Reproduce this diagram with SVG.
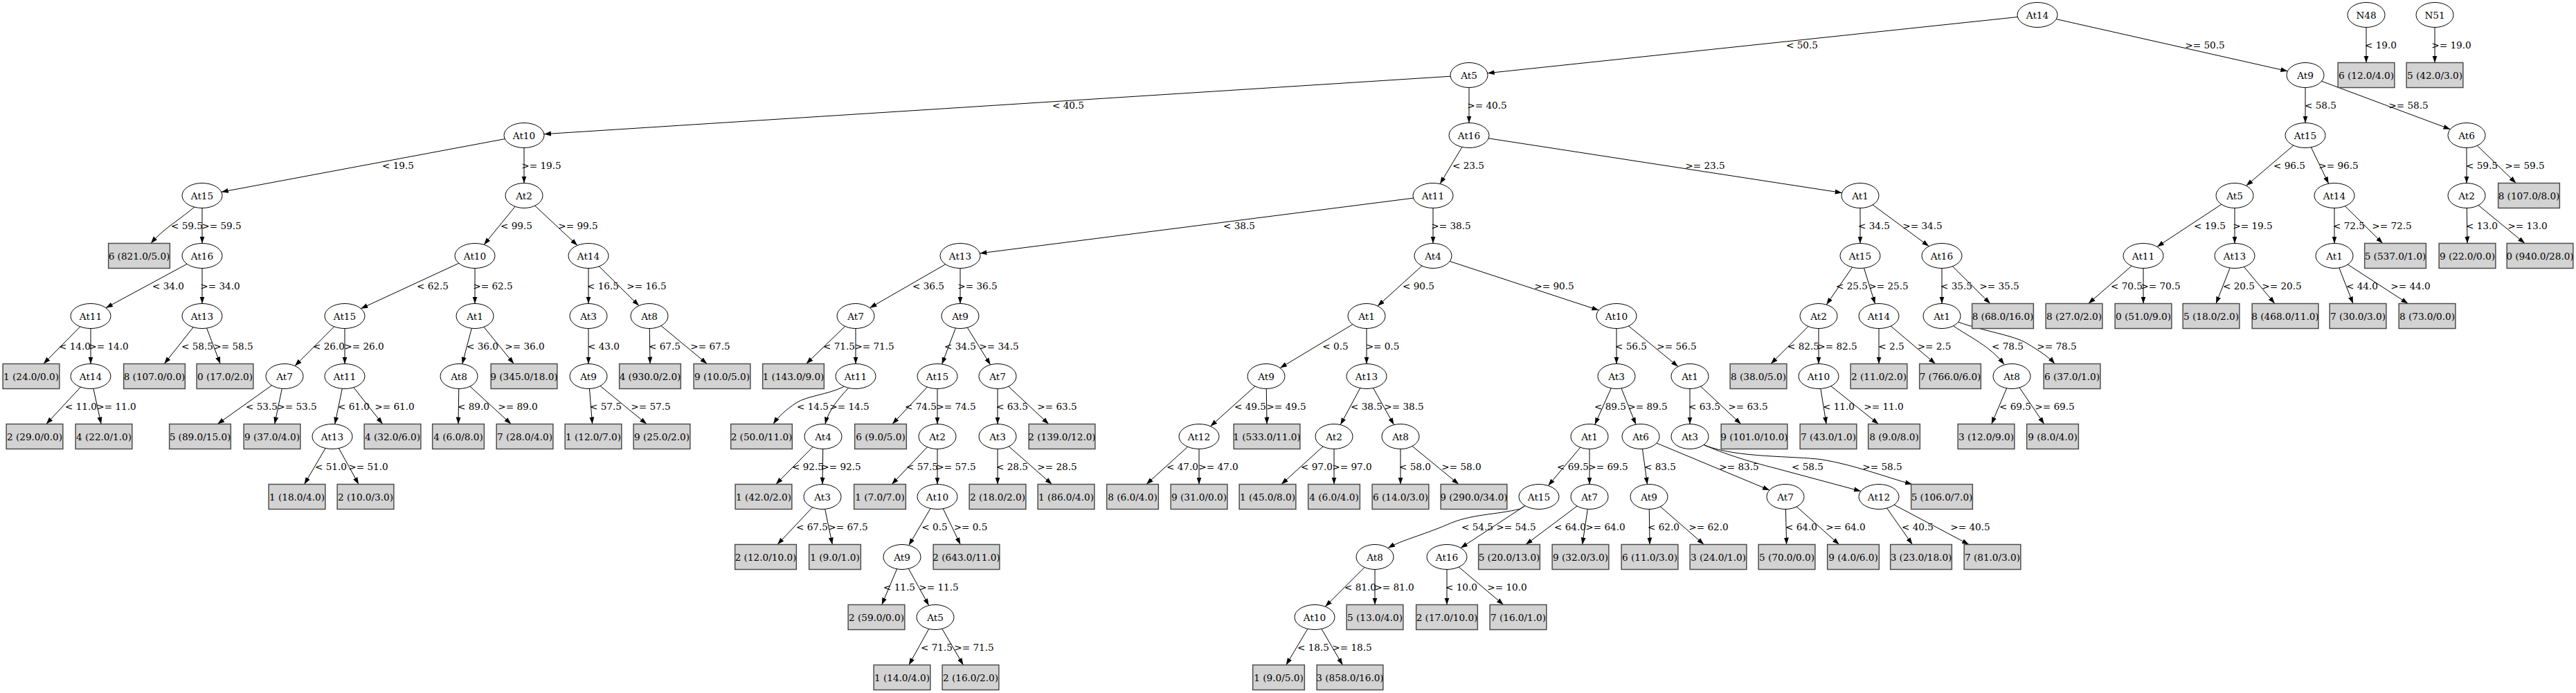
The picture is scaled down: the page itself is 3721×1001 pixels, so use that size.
<svg xmlns="http://www.w3.org/2000/svg" width="3721" height="1001" viewBox="0 0 3721 1001">
<style>
text{font-family:"DejaVu Serif","Liberation Serif",serif;font-size:13.6px;text-anchor:middle;fill:#000}
.node ellipse{fill:#fff;stroke:#000;stroke-width:1}
.leaf rect{fill:#d3d3d3;stroke:#4d4d4d;stroke-width:1.5}
#edges path{fill:none;stroke:#000;stroke-width:1;marker-end:url(#arr)}
</style>
<defs>
<marker id="arr" markerUnits="userSpaceOnUse" markerWidth="10" markerHeight="8" refX="10" refY="3.5" orient="auto" viewBox="0 0 10 7">
<path d="M0,0 L10,3.5 L0,7 z" fill="#000"/>
</marker>
</defs>
<rect width="3721" height="1001" fill="#fff"/>
<g id="edges">
<path d="M2943,21.5 L2148.7,105.7"/>
<path d="M2943,21.5 L3304.4,102.8"/>
<path d="M3418,21.5 L3418,90.5"/>
<path d="M3517,21.5 L3517,90.5"/>
<path d="M2122,108.5 L785.9,193.7"/>
<path d="M2122,108.5 L2122,177.5"/>
<path d="M3330,108.5 L3330,177.5"/>
<path d="M3330,108.5 L3539.4,186.7"/>
<path d="M757,195.5 L319.8,277.3"/>
<path d="M757,195.5 L757,264.5"/>
<path d="M2122,195.5 L2080.1,265.6"/>
<path d="M2122,195.5 L2660.7,278.5"/>
<path d="M3330,195.5 L3244.6,268.3"/>
<path d="M3330,195.5 L3363.7,265.3"/>
<path d="M3563,195.5 L3563,264.5"/>
<path d="M3563,195.5 L3634.4,264.5"/>
<path d="M292,282.5 L283,297 C262,316 236,330 218,351.5"/>
<path d="M292,282.5 L292,351.5"/>
<path d="M757,282.5 L699.1,353.4"/>
<path d="M757,282.5 L834,354.5"/>
<path d="M2070,282.5 L1415.4,365.9"/>
<path d="M2070,282.5 L2070,351.5"/>
<path d="M2687,282.5 L2687,351.5"/>
<path d="M2687,282.5 L2786.3,355.7"/>
<path d="M3228,282.5 L3115.9,356.4"/>
<path d="M3228,282.5 L3228,351.5"/>
<path d="M3372,282.5 L3372,351.5"/>
<path d="M3372,282.5 L3441.8,351.5"/>
<path d="M3563,282.5 L3564,351.5"/>
<path d="M3563,282.5 L3647.1,351.5"/>
<path d="M292,369.5 L152.9,444.7"/>
<path d="M292,369.5 L292,438.5"/>
<path d="M686,369.5 L521.3,445.7"/>
<path d="M686,369.5 L686,438.5"/>
<path d="M850,369.5 L850,438.5"/>
<path d="M850,369.5 L922.9,441.6"/>
<path d="M1387,369.5 L1256.4,444.7"/>
<path d="M1387,369.5 L1387,438.5"/>
<path d="M2070,369.5 L1990,442"/>
<path d="M2070,369.5 L2309.4,448.1"/>
<path d="M2687,369.5 L2638.3,440.1"/>
<path d="M2687,369.5 L2708.5,438.8"/>
<path d="M2805,369.5 L2805,438.5"/>
<path d="M2805,369.5 L2874.8,438.5"/>
<path d="M3096,369.5 L3016.7,438.5"/>
<path d="M3096,369.5 L3096,438.5"/>
<path d="M3228,369.5 L3201,438.5"/>
<path d="M3228,369.5 L3285.9,438.5"/>
<path d="M3372,369.5 L3399,438.5"/>
<path d="M3372,369.5 L3478.3,438.5"/>
<path d="M131,456.5 L62.8,525.5"/>
<path d="M131,456.5 L131,525.5"/>
<path d="M292,456.5 L237.3,525.5"/>
<path d="M292,456.5 L318.2,525.5"/>
<path d="M498,456.5 L426,528.5"/>
<path d="M498,456.5 L498,525.5"/>
<path d="M686,456.5 L667.7,525.8"/>
<path d="M686,456.5 L742.3,525.5"/>
<path d="M850,456.5 L850,525.5"/>
<path d="M938,456.5 L939,525.5"/>
<path d="M938,456.5 L1021.3,525.5"/>
<path d="M1236,456.5 L1164.6,525.5"/>
<path d="M1236,456.5 L1236,525.5"/>
<path d="M1387,456.5 L1360.6,526"/>
<path d="M1387,456.5 L1430.7,526.9"/>
<path d="M1974,456.5 L1849.1,531.5"/>
<path d="M1974,456.5 L1974,525.5"/>
<path d="M2335,456.5 L2335,525.5"/>
<path d="M2335,456.5 L2424,529.5"/>
<path d="M2627,456.5 L2558,525.5"/>
<path d="M2627,456.5 L2627,525.5"/>
<path d="M2714,456.5 L2714,525.5"/>
<path d="M2714,456.5 L2795.7,525.5"/>
<path d="M2805,456.5 L2822,471 C2845,487 2875,500 2895,526.5"/>
<path d="M2805,456.5 L2828,465 C2868,479 2908,484 2928,496 C2946,507 2960,516 2968,525.5"/>
<path d="M131,543.5 L66.8,612.5"/>
<path d="M131,543.5 L146.1,612.5"/>
<path d="M411,543.5 L314.2,612.5"/>
<path d="M411,543.5 L396.7,612.5"/>
<path d="M498,543.5 L483.7,612.6"/>
<path d="M498,543.5 L552.7,612.5"/>
<path d="M663,543.5 L662,612.5"/>
<path d="M663,543.5 L738.3,612.5"/>
<path d="M850,543.5 L855.6,612.5"/>
<path d="M850,543.5 L934.1,612.5"/>
<path d="M1236,543.5 L1218,559 C1195,570 1165,572 1150,582 C1135,592 1124,602 1117,612.5"/>
<path d="M1236,543.5 L1226,560 C1212,575 1197,592 1192,612.5"/>
<path d="M1354,543.5 L1289,612.5"/>
<path d="M1354,543.5 L1354,612.5"/>
<path d="M1441,543.5 L1441,612.5"/>
<path d="M1441,543.5 L1514.8,612.5"/>
<path d="M1829,543.5 L1748.5,615.7"/>
<path d="M1829,543.5 L1830,612.5"/>
<path d="M1974,543.5 L1936.2,613.6"/>
<path d="M1974,543.5 L2013.5,613.6"/>
<path d="M2335,543.5 L2303.7,613.3"/>
<path d="M2335,543.5 L2363,613.1"/>
<path d="M2441,543.5 L2441,612.5"/>
<path d="M2441,543.5 L2514.8,612.5"/>
<path d="M2627,543.5 L2638.1,612.5"/>
<path d="M2627,543.5 L2713.4,612.5"/>
<path d="M2906,543.5 L2876.7,612.5"/>
<path d="M2906,543.5 L2952.8,612.5"/>
<path d="M480,630.5 L439.6,699.5"/>
<path d="M480,630.5 L518.1,699.5"/>
<path d="M1189,630.5 L1120.8,699.5"/>
<path d="M1189,630.5 L1188,699.5"/>
<path d="M1354,630.5 L1288.2,699.5"/>
<path d="M1354,630.5 L1354,699.5"/>
<path d="M1441,630.5 L1441,699.5"/>
<path d="M1441,630.5 L1519.5,699.5"/>
<path d="M1732,630.5 L1655.9,699.5"/>
<path d="M1732,630.5 L1732,699.5"/>
<path d="M1927,630.5 L1850.9,699.5"/>
<path d="M1927,630.5 L1927,699.5"/>
<path d="M2023,630.5 L2023,699.5"/>
<path d="M2023,630.5 L2107.1,699.5"/>
<path d="M2296,630.5 L2236.4,701.5"/>
<path d="M2296,630.5 L2296,699.5"/>
<path d="M2370,630.5 L2379.5,699.6"/>
<path d="M2370,630.5 L2556.1,708"/>
<path d="M2441,630.5 L2462,643 C2490,655 2520,665 2567,677 L2688,709.5"/>
<path d="M2441,630.5 L2462,643 C2510,662 2590,658 2633,664 C2680,672 2720,688 2762,699.5"/>
<path d="M1188,717.5 L1123,786.5"/>
<path d="M1188,717.5 L1202.3,786.5"/>
<path d="M1354,717.5 L1312.8,787.7"/>
<path d="M1354,717.5 L1387.3,786.5"/>
<path d="M2223,717.5 L2196,735 C2160,744 2125,742 2090,758 C2055,773 2025,780 2005,791.5"/>
<path d="M2223,717.5 L2110,791.4"/>
<path d="M2296,717.5 L2204,786.5"/>
<path d="M2296,717.5 L2285.7,786.5"/>
<path d="M2382,717.5 L2383,786.5"/>
<path d="M2382,717.5 L2461.3,786.5"/>
<path d="M2579,717.5 L2580.6,786.5"/>
<path d="M2579,717.5 L2656.7,786.5"/>
<path d="M2714,717.5 L2762.4,786.5"/>
<path d="M2714,717.5 L2844.1,786.5"/>
<path d="M1303,804.5 L1273.7,873.5"/>
<path d="M1303,804.5 L1341.7,874.6"/>
<path d="M1986,804.5 L1914.3,876.2"/>
<path d="M1986,804.5 L1986,873.5"/>
<path d="M2090,804.5 L2090,873.5"/>
<path d="M2090,804.5 L2171.7,873.5"/>
<path d="M1351,891.5 L1312.9,960.5"/>
<path d="M1351,891.5 L1391.4,960.5"/>
<path d="M1899,891.5 L1857.8,960.5"/>
<path d="M1899,891.5 L1939.4,960.5"/>
<g id="edge-labels">
<text x="2603" y="70">&lt; 50.5</text><text x="3185" y="70">&gt;= 50.5</text><text x="3439" y="70">&lt; 19.0</text><text x="3541" y="70">&gt;= 19.0</text>
<text x="1543" y="157">&lt; 40.5</text><text x="2148" y="157">&gt;= 40.5</text><text x="3352" y="157">&lt; 58.5</text><text x="3479" y="157">&gt;= 58.5</text>
<text x="575" y="244">&lt; 19.5</text><text x="782" y="244">&gt;= 19.5</text><text x="2121" y="244">&lt; 23.5</text><text x="2463" y="244">&gt;= 23.5</text><text x="3307" y="244">&lt; 96.5</text><text x="3378" y="244">&gt;= 96.5</text><text x="3585" y="244">&lt; 59.5</text><text x="3647" y="244">&gt;= 59.5</text>
<text x="270" y="331">&lt; 59.5</text><text x="320" y="331">&gt;= 59.5</text><text x="746" y="331">&lt; 99.5</text><text x="835" y="331">&gt;= 99.5</text><text x="1790" y="331">&lt; 38.5</text><text x="2096" y="331">&gt;= 38.5</text><text x="2707" y="331">&lt; 34.5</text><text x="2777" y="331">&gt;= 34.5</text><text x="3192" y="331">&lt; 19.5</text><text x="3254" y="331">&gt;= 19.5</text><text x="3393" y="331">&lt; 72.5</text><text x="3455" y="331">&gt;= 72.5</text><text x="3585" y="331">&lt; 13.0</text><text x="3651" y="331">&gt;= 13.0</text>
<text x="243" y="418">&lt; 34.0</text><text x="318" y="418">&gt;= 34.0</text><text x="625" y="418">&lt; 62.5</text><text x="712" y="418">&gt;= 62.5</text><text x="871" y="418">&lt; 16.5</text><text x="934" y="418">&gt;= 16.5</text><text x="1341" y="418">&lt; 36.5</text><text x="1412" y="418">&gt;= 36.5</text><text x="2049" y="418">&lt; 90.5</text><text x="2245" y="418">&gt;= 90.5</text><text x="2675" y="418">&lt; 25.5</text><text x="2728" y="418">&gt;= 25.5</text><text x="2826" y="418">&lt; 35.5</text><text x="2888" y="418">&gt;= 35.5</text><text x="3072" y="418">&lt; 70.5</text><text x="3121" y="418">&gt;= 70.5</text><text x="3234" y="418">&lt; 20.5</text><text x="3296" y="418">&gt;= 20.5</text><text x="3412" y="418">&lt; 44.0</text><text x="3482" y="418">&gt;= 44.0</text>
<text x="108" y="505">&lt; 14.0</text><text x="157" y="505">&gt;= 14.0</text><text x="285" y="505">&lt; 58.5</text><text x="337" y="505">&gt;= 58.5</text><text x="475" y="505">&lt; 26.0</text><text x="526" y="505">&gt;= 26.0</text><text x="697" y="505">&lt; 36.0</text><text x="758" y="505">&gt;= 36.0</text><text x="872" y="505">&lt; 43.0</text><text x="960" y="505">&lt; 67.5</text><text x="1026" y="505">&gt;= 67.5</text><text x="1212" y="505">&lt; 71.5</text><text x="1263" y="505">&gt;= 71.5</text><text x="1387" y="505">&lt; 34.5</text><text x="1443" y="505">&gt;= 34.5</text><text x="1929" y="505">&lt; 0.5</text><text x="1997" y="505">&gt;= 0.5</text><text x="2356" y="505">&lt; 56.5</text><text x="2422" y="505">&gt;= 56.5</text><text x="2605" y="505">&lt; 82.5</text><text x="2654" y="505">&gt;= 82.5</text><text x="2732" y="505">&lt; 2.5</text><text x="2794" y="505">&gt;= 2.5</text><text x="2900" y="505">&lt; 78.5</text><text x="2971" y="505">&gt;= 78.5</text>
<text x="117" y="592">&lt; 11.0</text><text x="168" y="592">&gt;= 11.0</text><text x="378" y="592">&lt; 53.5</text><text x="429" y="592">&gt;= 53.5</text><text x="511" y="592">&lt; 61.0</text><text x="570" y="592">&gt;= 61.0</text><text x="684" y="592">&lt; 89.0</text><text x="748" y="592">&gt;= 89.0</text><text x="875" y="592">&lt; 57.5</text><text x="940" y="592">&gt;= 57.5</text><text x="1174" y="592">&lt; 14.5</text><text x="1227" y="592">&gt;= 14.5</text><text x="1330" y="592">&lt; 74.5</text><text x="1381" y="592">&gt;= 74.5</text><text x="1462" y="592">&lt; 63.5</text><text x="1527" y="592">&gt;= 63.5</text><text x="1806" y="592">&lt; 49.5</text><text x="1858" y="592">&gt;= 49.5</text><text x="1974" y="592">&lt; 38.5</text><text x="2028" y="592">&gt;= 38.5</text><text x="2326" y="592">&lt; 89.5</text><text x="2380" y="592">&gt;= 89.5</text><text x="2462" y="592">&lt; 63.5</text><text x="2525" y="592">&gt;= 63.5</text><text x="2656" y="592">&lt; 11.0</text><text x="2721" y="592">&gt;= 11.0</text><text x="2911" y="592">&lt; 69.5</text><text x="2968" y="592">&gt;= 69.5</text>
<text x="478" y="679">&lt; 51.0</text><text x="532" y="679">&gt;= 51.0</text><text x="1167" y="679">&lt; 92.5</text><text x="1215" y="679">&gt;= 92.5</text><text x="1332" y="679">&lt; 57.5</text><text x="1381" y="679">&gt;= 57.5</text><text x="1462" y="679">&lt; 28.5</text><text x="1527" y="679">&gt;= 28.5</text><text x="1708" y="679">&lt; 47.0</text><text x="1760" y="679">&gt;= 47.0</text><text x="1902" y="679">&lt; 97.0</text><text x="1953" y="679">&gt;= 97.0</text><text x="2044" y="679">&lt; 58.0</text><text x="2111" y="679">&gt;= 58.0</text><text x="2272" y="679">&lt; 69.5</text><text x="2323" y="679">&gt;= 69.5</text><text x="2398" y="679">&lt; 83.5</text><text x="2512" y="679">&gt;= 83.5</text><text x="2611" y="679">&lt; 58.5</text><text x="2719" y="679">&gt;= 58.5</text>
<text x="1173" y="766">&lt; 67.5</text><text x="1225" y="766">&gt;= 67.5</text><text x="1350" y="766">&lt; 0.5</text><text x="1402" y="766">&gt;= 0.5</text><text x="2134" y="766">&lt; 54.5</text><text x="2190" y="766">&gt;= 54.5</text><text x="2268" y="766">&lt; 64.0</text><text x="2319" y="766">&gt;= 64.0</text><text x="2403" y="766">&lt; 62.0</text><text x="2468" y="766">&gt;= 62.0</text><text x="2602" y="766">&lt; 64.0</text><text x="2666" y="766">&gt;= 64.0</text><text x="2770" y="766">&lt; 40.5</text><text x="2846" y="766">&gt;= 40.5</text>
<text x="1299" y="853">&lt; 11.5</text><text x="1356" y="853">&gt;= 11.5</text><text x="1965" y="853">&lt; 81.0</text><text x="2014" y="853">&gt;= 81.0</text><text x="2111" y="853">&lt; 10.0</text><text x="2177" y="853">&gt;= 10.0</text>
<text x="1353" y="940">&lt; 71.5</text><text x="1407" y="940">&gt;= 71.5</text><text x="1897" y="940">&lt; 18.5</text><text x="1953" y="940">&gt;= 18.5</text>
</g>
</g>
<g id="nodes">
<g id="n0" class="node"><ellipse cx="2943" cy="21.5" rx="29" ry="18"/><text x="2943" y="26.5">At14</text></g>
<g id="n48" class="node"><ellipse cx="3418" cy="21.5" rx="27" ry="18"/><text x="3418" y="26.5">N48</text></g>
<g id="n51" class="node"><ellipse cx="3517" cy="21.5" rx="27" ry="18"/><text x="3517" y="26.5">N51</text></g>
<g id="n1" class="node"><ellipse cx="2122" cy="108.5" rx="27" ry="18"/><text x="2122" y="113.5">At5</text></g>
<g id="n2" class="node"><ellipse cx="3330" cy="108.5" rx="27" ry="18"/><text x="3330" y="113.5">At9</text></g>
<g id="l1" class="leaf"><rect x="3377.15" y="90.5" width="81.7" height="36"/><text x="3418" y="113.5">6 (12.0/4.0)</text></g>
<g id="l2" class="leaf"><rect x="3476.15" y="90.5" width="81.7" height="36"/><text x="3517" y="113.5">5 (42.0/3.0)</text></g>
<g id="n3" class="node"><ellipse cx="757" cy="195.5" rx="29" ry="18"/><text x="757" y="200.5">At10</text></g>
<g id="n4" class="node"><ellipse cx="2122" cy="195.5" rx="29" ry="18"/><text x="2122" y="200.5">At16</text></g>
<g id="n5" class="node"><ellipse cx="3330" cy="195.5" rx="29" ry="18"/><text x="3330" y="200.5">At15</text></g>
<g id="n6" class="node"><ellipse cx="3563" cy="195.5" rx="27" ry="18"/><text x="3563" y="200.5">At6</text></g>
<g id="n7" class="node"><ellipse cx="292" cy="282.5" rx="29" ry="18"/><text x="292" y="287.5">At15</text></g>
<g id="n8" class="node"><ellipse cx="757" cy="282.5" rx="27" ry="18"/><text x="757" y="287.5">At2</text></g>
<g id="n9" class="node"><ellipse cx="2070" cy="282.5" rx="29" ry="18"/><text x="2070" y="287.5">At11</text></g>
<g id="n10" class="node"><ellipse cx="2687" cy="282.5" rx="27" ry="18"/><text x="2687" y="287.5">At1</text></g>
<g id="n11" class="node"><ellipse cx="3228" cy="282.5" rx="27" ry="18"/><text x="3228" y="287.5">At5</text></g>
<g id="n12" class="node"><ellipse cx="3372" cy="282.5" rx="29" ry="18"/><text x="3372" y="287.5">At14</text></g>
<g id="n13" class="node"><ellipse cx="3563" cy="282.5" rx="27" ry="18"/><text x="3563" y="287.5">At2</text></g>
<g id="l3" class="leaf"><rect x="3608.65" y="264.5" width="88.7" height="36"/><text x="3653" y="287.5">8 (107.0/8.0)</text></g>
<g id="l4" class="leaf"><rect x="156.65" y="351.5" width="88.7" height="36"/><text x="201" y="374.5">6 (821.0/5.0)</text></g>
<g id="n14" class="node"><ellipse cx="292" cy="369.5" rx="29" ry="18"/><text x="292" y="374.5">At16</text></g>
<g id="n15" class="node"><ellipse cx="686" cy="369.5" rx="29" ry="18"/><text x="686" y="374.5">At10</text></g>
<g id="n16" class="node"><ellipse cx="850" cy="369.5" rx="29" ry="18"/><text x="850" y="374.5">At14</text></g>
<g id="n17" class="node"><ellipse cx="1387" cy="369.5" rx="29" ry="18"/><text x="1387" y="374.5">At13</text></g>
<g id="n18" class="node"><ellipse cx="2070" cy="369.5" rx="27" ry="18"/><text x="2070" y="374.5">At4</text></g>
<g id="n19" class="node"><ellipse cx="2687" cy="369.5" rx="29" ry="18"/><text x="2687" y="374.5">At15</text></g>
<g id="n20" class="node"><ellipse cx="2805" cy="369.5" rx="29" ry="18"/><text x="2805" y="374.5">At16</text></g>
<g id="n21" class="node"><ellipse cx="3096" cy="369.5" rx="29" ry="18"/><text x="3096" y="374.5">At11</text></g>
<g id="n22" class="node"><ellipse cx="3228" cy="369.5" rx="29" ry="18"/><text x="3228" y="374.5">At13</text></g>
<g id="n23" class="node"><ellipse cx="3372" cy="369.5" rx="27" ry="18"/><text x="3372" y="374.5">At1</text></g>
<g id="l5" class="leaf"><rect x="3415.65" y="351.5" width="88.7" height="36"/><text x="3460" y="374.5">5 (537.0/1.0)</text></g>
<g id="l6" class="leaf"><rect x="3523.15" y="351.5" width="81.7" height="36"/><text x="3564" y="374.5">9 (22.0/0.0)</text></g>
<g id="l7" class="leaf"><rect x="3621.15" y="351.5" width="95.7" height="36"/><text x="3669" y="374.5">0 (940.0/28.0)</text></g>
<g id="n24" class="node"><ellipse cx="131" cy="456.5" rx="29" ry="18"/><text x="131" y="461.5">At11</text></g>
<g id="n25" class="node"><ellipse cx="292" cy="456.5" rx="29" ry="18"/><text x="292" y="461.5">At13</text></g>
<g id="n26" class="node"><ellipse cx="498" cy="456.5" rx="29" ry="18"/><text x="498" y="461.5">At15</text></g>
<g id="n27" class="node"><ellipse cx="686" cy="456.5" rx="27" ry="18"/><text x="686" y="461.5">At1</text></g>
<g id="n28" class="node"><ellipse cx="850" cy="456.5" rx="27" ry="18"/><text x="850" y="461.5">At3</text></g>
<g id="n29" class="node"><ellipse cx="938" cy="456.5" rx="27" ry="18"/><text x="938" y="461.5">At8</text></g>
<g id="n30" class="node"><ellipse cx="1236" cy="456.5" rx="27" ry="18"/><text x="1236" y="461.5">At7</text></g>
<g id="n31" class="node"><ellipse cx="1387" cy="456.5" rx="27" ry="18"/><text x="1387" y="461.5">At9</text></g>
<g id="n32" class="node"><ellipse cx="1974" cy="456.5" rx="27" ry="18"/><text x="1974" y="461.5">At1</text></g>
<g id="n33" class="node"><ellipse cx="2335" cy="456.5" rx="29" ry="18"/><text x="2335" y="461.5">At10</text></g>
<g id="n34" class="node"><ellipse cx="2627" cy="456.5" rx="27" ry="18"/><text x="2627" y="461.5">At2</text></g>
<g id="n35" class="node"><ellipse cx="2714" cy="456.5" rx="29" ry="18"/><text x="2714" y="461.5">At14</text></g>
<g id="n36" class="node"><ellipse cx="2805" cy="456.5" rx="27" ry="18"/><text x="2805" y="461.5">At1</text></g>
<g id="l8" class="leaf"><rect x="2848.65" y="438.5" width="88.7" height="36"/><text x="2893" y="461.5">8 (68.0/16.0)</text></g>
<g id="l9" class="leaf"><rect x="2955.15" y="438.5" width="81.7" height="36"/><text x="2996" y="461.5">8 (27.0/2.0)</text></g>
<g id="l10" class="leaf"><rect x="3055.15" y="438.5" width="81.7" height="36"/><text x="3096" y="461.5">0 (51.0/9.0)</text></g>
<g id="l11" class="leaf"><rect x="3153.15" y="438.5" width="81.7" height="36"/><text x="3194" y="461.5">5 (18.0/2.0)</text></g>
<g id="l12" class="leaf"><rect x="3253.15" y="438.5" width="95.7" height="36"/><text x="3301" y="461.5">8 (468.0/11.0)</text></g>
<g id="l13" class="leaf"><rect x="3365.15" y="438.5" width="81.7" height="36"/><text x="3406" y="461.5">7 (30.0/3.0)</text></g>
<g id="l14" class="leaf"><rect x="3465.15" y="438.5" width="81.7" height="36"/><text x="3506" y="461.5">8 (73.0/0.0)</text></g>
<g id="l15" class="leaf"><rect x="4.15" y="525.5" width="81.7" height="36"/><text x="45" y="548.5">1 (24.0/0.0)</text></g>
<g id="n37" class="node"><ellipse cx="131" cy="543.5" rx="29" ry="18"/><text x="131" y="548.5">At14</text></g>
<g id="l16" class="leaf"><rect x="178.65" y="525.5" width="88.7" height="36"/><text x="223" y="548.5">8 (107.0/0.0)</text></g>
<g id="l17" class="leaf"><rect x="284.15" y="525.5" width="81.7" height="36"/><text x="325" y="548.5">0 (17.0/2.0)</text></g>
<g id="n38" class="node"><ellipse cx="411" cy="543.5" rx="27" ry="18"/><text x="411" y="548.5">At7</text></g>
<g id="n39" class="node"><ellipse cx="498" cy="543.5" rx="29" ry="18"/><text x="498" y="548.5">At11</text></g>
<g id="n40" class="node"><ellipse cx="663" cy="543.5" rx="27" ry="18"/><text x="663" y="548.5">At8</text></g>
<g id="l18" class="leaf"><rect x="709.15" y="525.5" width="95.7" height="36"/><text x="757" y="548.5">9 (345.0/18.0)</text></g>
<g id="n41" class="node"><ellipse cx="850" cy="543.5" rx="27" ry="18"/><text x="850" y="548.5">At9</text></g>
<g id="l19" class="leaf"><rect x="894.65" y="525.5" width="88.7" height="36"/><text x="939" y="548.5">4 (930.0/2.0)</text></g>
<g id="l20" class="leaf"><rect x="1002.15" y="525.5" width="81.7" height="36"/><text x="1043" y="548.5">9 (10.0/5.0)</text></g>
<g id="l21" class="leaf"><rect x="1101.65" y="525.5" width="88.7" height="36"/><text x="1146" y="548.5">1 (143.0/9.0)</text></g>
<g id="n42" class="node"><ellipse cx="1236" cy="543.5" rx="29" ry="18"/><text x="1236" y="548.5">At11</text></g>
<g id="n43" class="node"><ellipse cx="1354" cy="543.5" rx="29" ry="18"/><text x="1354" y="548.5">At15</text></g>
<g id="n44" class="node"><ellipse cx="1441" cy="543.5" rx="27" ry="18"/><text x="1441" y="548.5">At7</text></g>
<g id="n45" class="node"><ellipse cx="1829" cy="543.5" rx="27" ry="18"/><text x="1829" y="548.5">At9</text></g>
<g id="n46" class="node"><ellipse cx="1974" cy="543.5" rx="29" ry="18"/><text x="1974" y="548.5">At13</text></g>
<g id="n47" class="node"><ellipse cx="2335" cy="543.5" rx="27" ry="18"/><text x="2335" y="548.5">At3</text></g>
<g id="n49b" class="node"><ellipse cx="2441" cy="543.5" rx="27" ry="18"/><text x="2441" y="548.5">At1</text></g>
<g id="l22" class="leaf"><rect x="2499.15" y="525.5" width="81.7" height="36"/><text x="2540" y="548.5">8 (38.0/5.0)</text></g>
<g id="n49" class="node"><ellipse cx="2627" cy="543.5" rx="29" ry="18"/><text x="2627" y="548.5">At10</text></g>
<g id="l23" class="leaf"><rect x="2673.15" y="525.5" width="81.7" height="36"/><text x="2714" y="548.5">2 (11.0/2.0)</text></g>
<g id="l24" class="leaf"><rect x="2772.65" y="525.5" width="88.7" height="36"/><text x="2817" y="548.5">7 (766.0/6.0)</text></g>
<g id="n50" class="node"><ellipse cx="2906" cy="543.5" rx="27" ry="18"/><text x="2906" y="548.5">At8</text></g>
<g id="l25" class="leaf"><rect x="2952.15" y="525.5" width="81.7" height="36"/><text x="2993" y="548.5">6 (37.0/1.0)</text></g>
<g id="l26" class="leaf"><rect x="9.15" y="612.5" width="81.7" height="36"/><text x="50" y="635.5">2 (29.0/0.0)</text></g>
<g id="l27" class="leaf"><rect x="109.15" y="612.5" width="81.7" height="36"/><text x="150" y="635.5">4 (22.0/1.0)</text></g>
<g id="l28" class="leaf"><rect x="244.65" y="612.5" width="88.7" height="36"/><text x="289" y="635.5">5 (89.0/15.0)</text></g>
<g id="l29" class="leaf"><rect x="352.15" y="612.5" width="81.7" height="36"/><text x="393" y="635.5">9 (37.0/4.0)</text></g>
<g id="n52" class="node"><ellipse cx="480" cy="630.5" rx="29" ry="18"/><text x="480" y="635.5">At13</text></g>
<g id="l30" class="leaf"><rect x="526.15" y="612.5" width="81.7" height="36"/><text x="567" y="635.5">4 (32.0/6.0)</text></g>
<g id="l31" class="leaf"><rect x="624.65" y="612.5" width="74.7" height="36"/><text x="662" y="635.5">4 (6.0/8.0)</text></g>
<g id="l32" class="leaf"><rect x="717.15" y="612.5" width="81.7" height="36"/><text x="758" y="635.5">7 (28.0/4.0)</text></g>
<g id="l33" class="leaf"><rect x="816.15" y="612.5" width="81.7" height="36"/><text x="857" y="635.5">1 (12.0/7.0)</text></g>
<g id="l34" class="leaf"><rect x="915.15" y="612.5" width="81.7" height="36"/><text x="956" y="635.5">9 (25.0/2.0)</text></g>
<g id="l35" class="leaf"><rect x="1055.65" y="612.5" width="88.7" height="36"/><text x="1100" y="635.5">2 (50.0/11.0)</text></g>
<g id="n53" class="node"><ellipse cx="1189" cy="630.5" rx="27" ry="18"/><text x="1189" y="635.5">At4</text></g>
<g id="l36" class="leaf"><rect x="1234.65" y="612.5" width="74.7" height="36"/><text x="1272" y="635.5">6 (9.0/5.0)</text></g>
<g id="n54" class="node"><ellipse cx="1354" cy="630.5" rx="27" ry="18"/><text x="1354" y="635.5">At2</text></g>
<g id="n55" class="node"><ellipse cx="1441" cy="630.5" rx="27" ry="18"/><text x="1441" y="635.5">At3</text></g>
<g id="l37" class="leaf"><rect x="1486.15" y="612.5" width="95.7" height="36"/><text x="1534" y="635.5">2 (139.0/12.0)</text></g>
<g id="n56" class="node"><ellipse cx="1732" cy="630.5" rx="29" ry="18"/><text x="1732" y="635.5">At12</text></g>
<g id="l38" class="leaf"><rect x="1782.15" y="612.5" width="95.7" height="36"/><text x="1830" y="635.5">1 (533.0/11.0)</text></g>
<g id="n57" class="node"><ellipse cx="1927" cy="630.5" rx="27" ry="18"/><text x="1927" y="635.5">At2</text></g>
<g id="n58" class="node"><ellipse cx="2023" cy="630.5" rx="27" ry="18"/><text x="2023" y="635.5">At8</text></g>
<g id="n59" class="node"><ellipse cx="2296" cy="630.5" rx="27" ry="18"/><text x="2296" y="635.5">At1</text></g>
<g id="n60" class="node"><ellipse cx="2370" cy="630.5" rx="27" ry="18"/><text x="2370" y="635.5">At6</text></g>
<g id="n61" class="node"><ellipse cx="2441" cy="630.5" rx="27" ry="18"/><text x="2441" y="635.5">At3</text></g>
<g id="l39" class="leaf"><rect x="2486.15" y="612.5" width="95.7" height="36"/><text x="2534" y="635.5">9 (101.0/10.0)</text></g>
<g id="l40" class="leaf"><rect x="2600.15" y="612.5" width="81.7" height="36"/><text x="2641" y="635.5">7 (43.0/1.0)</text></g>
<g id="l41" class="leaf"><rect x="2698.65" y="612.5" width="74.7" height="36"/><text x="2736" y="635.5">8 (9.0/8.0)</text></g>
<g id="l42" class="leaf"><rect x="2828.15" y="612.5" width="81.7" height="36"/><text x="2869" y="635.5">3 (12.0/9.0)</text></g>
<g id="l43" class="leaf"><rect x="2927.65" y="612.5" width="74.7" height="36"/><text x="2965" y="635.5">9 (8.0/4.0)</text></g>
<g id="l44" class="leaf"><rect x="388.15" y="699.5" width="81.7" height="36"/><text x="429" y="722.5">1 (18.0/4.0)</text></g>
<g id="l45" class="leaf"><rect x="487.15" y="699.5" width="81.7" height="36"/><text x="528" y="722.5">2 (10.0/3.0)</text></g>
<g id="l46" class="leaf"><rect x="1062.15" y="699.5" width="81.7" height="36"/><text x="1103" y="722.5">1 (42.0/2.0)</text></g>
<g id="n62" class="node"><ellipse cx="1188" cy="717.5" rx="27" ry="18"/><text x="1188" y="722.5">At3</text></g>
<g id="l47" class="leaf"><rect x="1233.65" y="699.5" width="74.7" height="36"/><text x="1271" y="722.5">1 (7.0/7.0)</text></g>
<g id="n63" class="node"><ellipse cx="1354" cy="717.5" rx="29" ry="18"/><text x="1354" y="722.5">At10</text></g>
<g id="l48" class="leaf"><rect x="1400.15" y="699.5" width="81.7" height="36"/><text x="1441" y="722.5">2 (18.0/2.0)</text></g>
<g id="l49" class="leaf"><rect x="1499.15" y="699.5" width="81.7" height="36"/><text x="1540" y="722.5">1 (86.0/4.0)</text></g>
<g id="l50" class="leaf"><rect x="1598.65" y="699.5" width="74.7" height="36"/><text x="1636" y="722.5">8 (6.0/4.0)</text></g>
<g id="l51" class="leaf"><rect x="1691.15" y="699.5" width="81.7" height="36"/><text x="1732" y="722.5">9 (31.0/0.0)</text></g>
<g id="l52" class="leaf"><rect x="1790.15" y="699.5" width="81.7" height="36"/><text x="1831" y="722.5">1 (45.0/8.0)</text></g>
<g id="l53" class="leaf"><rect x="1889.65" y="699.5" width="74.7" height="36"/><text x="1927" y="722.5">4 (6.0/4.0)</text></g>
<g id="l54" class="leaf"><rect x="1982.15" y="699.5" width="81.7" height="36"/><text x="2023" y="722.5">6 (14.0/3.0)</text></g>
<g id="l55" class="leaf"><rect x="2081.15" y="699.5" width="95.7" height="36"/><text x="2129" y="722.5">9 (290.0/34.0)</text></g>
<g id="n64" class="node"><ellipse cx="2223" cy="717.5" rx="29" ry="18"/><text x="2223" y="722.5">At15</text></g>
<g id="n65" class="node"><ellipse cx="2296" cy="717.5" rx="27" ry="18"/><text x="2296" y="722.5">At7</text></g>
<g id="n66" class="node"><ellipse cx="2382" cy="717.5" rx="27" ry="18"/><text x="2382" y="722.5">At9</text></g>
<g id="n67" class="node"><ellipse cx="2579" cy="717.5" rx="27" ry="18"/><text x="2579" y="722.5">At7</text></g>
<g id="n68" class="node"><ellipse cx="2714" cy="717.5" rx="29" ry="18"/><text x="2714" y="722.5">At12</text></g>
<g id="l56" class="leaf"><rect x="2760.65" y="699.5" width="88.7" height="36"/><text x="2805" y="722.5">5 (106.0/7.0)</text></g>
<g id="l57" class="leaf"><rect x="1061.65" y="786.5" width="88.7" height="36"/><text x="1106" y="809.5">2 (12.0/10.0)</text></g>
<g id="l58" class="leaf"><rect x="1168.65" y="786.5" width="74.7" height="36"/><text x="1206" y="809.5">1 (9.0/1.0)</text></g>
<g id="n69" class="node"><ellipse cx="1303" cy="804.5" rx="27" ry="18"/><text x="1303" y="809.5">At9</text></g>
<g id="l59" class="leaf"><rect x="1348.15" y="786.5" width="95.7" height="36"/><text x="1396" y="809.5">2 (643.0/11.0)</text></g>
<g id="n70" class="node"><ellipse cx="1986" cy="804.5" rx="27" ry="18"/><text x="1986" y="809.5">At8</text></g>
<g id="n71" class="node"><ellipse cx="2090" cy="804.5" rx="29" ry="18"/><text x="2090" y="809.5">At16</text></g>
<g id="l60" class="leaf"><rect x="2135.65" y="786.5" width="88.7" height="36"/><text x="2180" y="809.5">5 (20.0/13.0)</text></g>
<g id="l61" class="leaf"><rect x="2242.15" y="786.5" width="81.7" height="36"/><text x="2283" y="809.5">9 (32.0/3.0)</text></g>
<g id="l62" class="leaf"><rect x="2342.15" y="786.5" width="81.7" height="36"/><text x="2383" y="809.5">6 (11.0/3.0)</text></g>
<g id="l63" class="leaf"><rect x="2441.15" y="786.5" width="81.7" height="36"/><text x="2482" y="809.5">3 (24.0/1.0)</text></g>
<g id="l64" class="leaf"><rect x="2540.15" y="786.5" width="81.7" height="36"/><text x="2581" y="809.5">5 (70.0/0.0)</text></g>
<g id="l65" class="leaf"><rect x="2639.65" y="786.5" width="74.7" height="36"/><text x="2677" y="809.5">9 (4.0/6.0)</text></g>
<g id="l66" class="leaf"><rect x="2730.65" y="786.5" width="88.7" height="36"/><text x="2775" y="809.5">3 (23.0/18.0)</text></g>
<g id="l67" class="leaf"><rect x="2837.15" y="786.5" width="81.7" height="36"/><text x="2878" y="809.5">7 (81.0/3.0)</text></g>
<g id="l68" class="leaf"><rect x="1225.15" y="873.5" width="81.7" height="36"/><text x="1266" y="896.5">2 (59.0/0.0)</text></g>
<g id="n72" class="node"><ellipse cx="1351" cy="891.5" rx="27" ry="18"/><text x="1351" y="896.5">At5</text></g>
<g id="n73" class="node"><ellipse cx="1899" cy="891.5" rx="29" ry="18"/><text x="1899" y="896.5">At10</text></g>
<g id="l69" class="leaf"><rect x="1945.15" y="873.5" width="81.7" height="36"/><text x="1986" y="896.5">5 (13.0/4.0)</text></g>
<g id="l70" class="leaf"><rect x="2045.65" y="873.5" width="88.7" height="36"/><text x="2090" y="896.5">2 (17.0/10.0)</text></g>
<g id="l71" class="leaf"><rect x="2152.15" y="873.5" width="81.7" height="36"/><text x="2193" y="896.5">7 (16.0/1.0)</text></g>
<g id="l72" class="leaf"><rect x="1262.15" y="960.5" width="81.7" height="36"/><text x="1303" y="983.5">1 (14.0/4.0)</text></g>
<g id="l73" class="leaf"><rect x="1361.15" y="960.5" width="81.7" height="36"/><text x="1402" y="983.5">2 (16.0/2.0)</text></g>
<g id="l74" class="leaf"><rect x="1809.65" y="960.5" width="74.7" height="36"/><text x="1847" y="983.5">1 (9.0/5.0)</text></g>
<g id="l75" class="leaf"><rect x="1902.15" y="960.5" width="95.7" height="36"/><text x="1950" y="983.5">3 (858.0/16.0)</text></g>
</g>
</svg>
